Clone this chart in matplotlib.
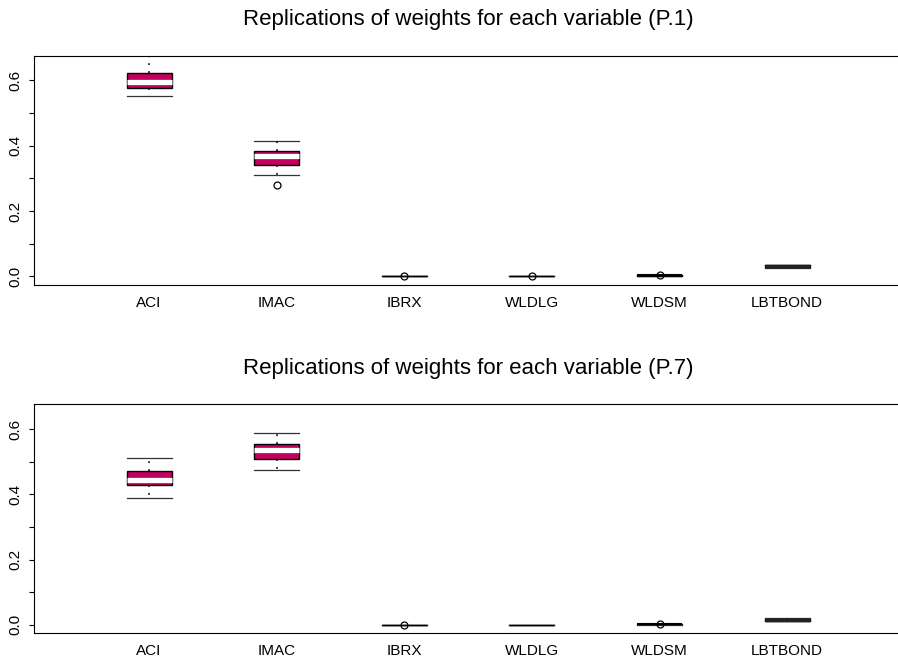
import matplotlib
matplotlib.use('Agg')
import matplotlib.pyplot as plt

plt.rcParams['font.family'] = ['Liberation Sans', 'DejaVu Sans']

categories = ['ACI', 'IMAC', 'IBRX', 'WLDLG', 'WLDSM', 'LBTBOND']

# P.1 box statistics
p1_med = [0.594, 0.368, 0.0, 0.0, 0.003, 0.031]
p1_q1 = [0.5785, 0.340, 0.0, 0.0, 0.002, 0.027]
p1_q3 = [0.6235, 0.3826, 0.0, 0.0, 0.004, 0.034]
p1_lo = [0.552, 0.309, 0.0, 0.0, 0.0015, 0.026]
p1_hi = [0.69, 0.414, 0.0, 0.0, 0.0045, 0.035]
p1_fliers = [[], [0.2785], [0.0], [0.0], [0.004], []]

# P.7 box statistics
p7_med = [0.443, 0.535, 0.0, 0.0, 0.002, 0.0155]
p7_q1 = [0.427, 0.509, 0.0, 0.0, 0.001, 0.012]
p7_q3 = [0.4707, 0.554, 0.0, 0.0, 0.003, 0.019]
p7_lo = [0.390, 0.473, 0.0, 0.0, 0.0005, 0.011]
p7_hi = [0.511, 0.589, 0.0, 0.0, 0.0035, 0.020]
p7_fliers = [[], [], [0.0], [], [0.002], []]

panels = [
    ('Replications of weights for each variable (P.1)',
     p1_med, p1_q1, p1_q3, p1_lo, p1_hi, p1_fliers),
    ('Replications of weights for each variable (P.7)',
     p7_med, p7_q1, p7_q3, p7_lo, p7_hi, p7_fliers),
]

BOX_COL = '#C4005E'
W = 0.353

fig = plt.figure(figsize=(8.98, 6.6), dpi=100)
axes_pos = [[0.0382, 0.5686, 0.9663, 0.3470],
            [0.0382, 0.0405, 0.9663, 0.3470]]

for pos, (title, med, q1, q3, lo, hi, fl) in zip(axes_pos, panels):
    ax = fig.add_axes(pos)
    stats = []
    for i, name in enumerate(categories):
        stats.append(dict(med=med[i], q1=q1[i], q3=q3[i],
                          whislo=lo[i], whishi=hi[i], fliers=fl[i], label=name))
    pos_x = list(range(1, len(categories) + 1))
    bp = ax.bxp(stats, positions=pos_x, widths=W, capwidths=W,
                patch_artist=True, manage_ticks=False,
                boxprops=dict(facecolor=BOX_COL, edgecolor='black', linewidth=1.0),
                medianprops=dict(color='white', linewidth=3.8, solid_capstyle='butt'),
                whiskerprops=dict(color='black', linewidth=1.1, linestyle=(0, (1.2, 4))),
                capprops=dict(color='#333333', linewidth=0.9),
                flierprops=dict(marker='o', markerfacecolor='none',
                                markeredgecolor='black', markersize=5,
                                markeredgewidth=0.9))
    # collapsed boxes: the median shows as a dark line
    for j, m in enumerate(bp['medians']):
        if j == 2 or j == 3:
            m.set_color('black'); m.set_linewidth(0.9)
        elif j == 4:
            m.set_color('black'); m.set_linewidth(1.5)
        elif j == 5:
            m.set_color('#222222'); m.set_linewidth(2.4)
    for c in bp['caps']:
        c.set_zorder(1.5)

    ax.set_xlim(0.1, 6.9)
    ax.set_ylim(-0.026, 0.676)
    ax.set_xticks(pos_x)
    ax.set_xticklabels(categories, fontsize=11)
    ax.tick_params(axis='x', length=0, pad=8)
    yt = [0.0, 0.1, 0.2, 0.3, 0.4, 0.5, 0.6]
    ax.set_yticks(yt)
    ax.set_yticklabels(['0.0', '', '0.2', '', '0.4', '', '0.6'],
                       rotation=90, va='center', fontsize=11)
    ax.tick_params(axis='y', length=3.6, width=0.8, pad=5)
    for s in ['left', 'top', 'bottom']:
        ax.spines[s].set_linewidth(0.8)
    ax.spines['right'].set_visible(False)
    ax.text(0.5, 1.157, title, transform=ax.transAxes, ha='center',
            va='center', fontsize=16)

fig.savefig('out.png', dpi=100)
